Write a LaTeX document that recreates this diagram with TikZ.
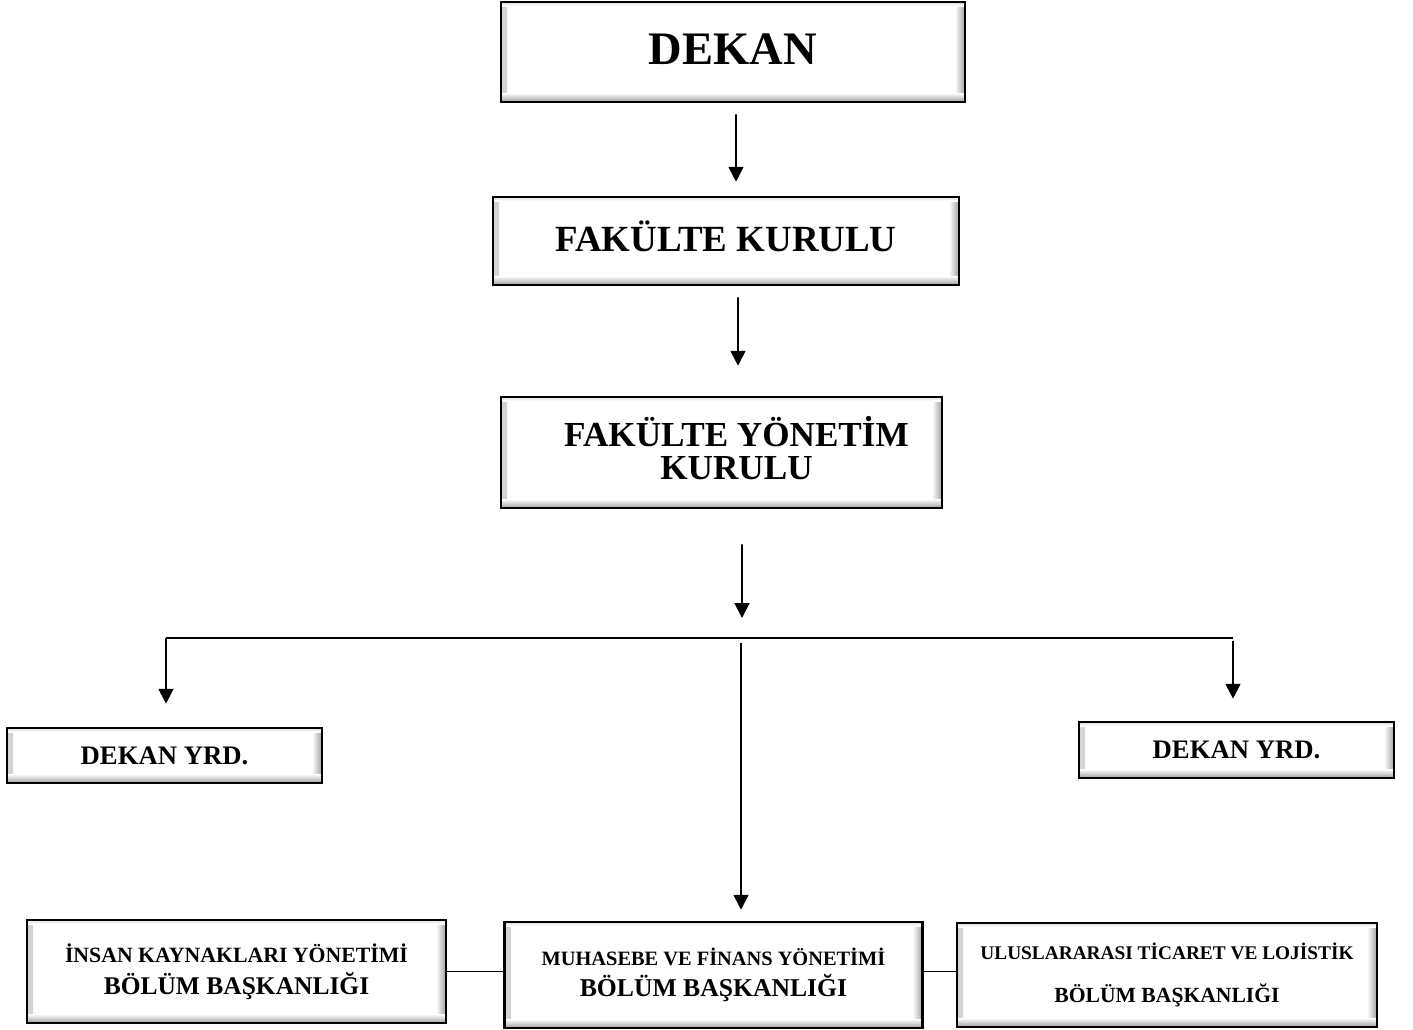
\documentclass[tikz,border=0pt]{standalone}
\usepackage{fontspec}
\setmainfont{Liberation Serif}
\usetikzlibrary{arrows.meta}
\tikzset{
  bevel/.style={draw=black, line width=1.5pt, fill=white, inner sep=0pt, align=center, font=\bfseries,
    path picture={
      \shade[left color=gray!35, right color=white] (path picture bounding box.south west) rectangle ([xshift=0.12cm]path picture bounding box.north west);
      \shade[left color=white, right color=gray!75] ([xshift=-0.2cm]path picture bounding box.south east) rectangle (path picture bounding box.north east);
      \shade[top color=white, bottom color=gray!75] (path picture bounding box.south west) rectangle ([yshift=0.18cm]path picture bounding box.south east);
      \shade[top color=gray!25, bottom color=white] ([yshift=-0.08cm]path picture bounding box.north west) rectangle (path picture bounding box.north east);
    }},
  arr/.style={line width=1.1pt, -{Triangle[width=8.5pt,length=8.5pt]}},
  hline/.style={line width=1pt}
}
\begin{document}
\begin{tikzpicture}[x=0.02cm,y=-0.02cm]
\useasboundingbox (0,0) rectangle (1413,1029);
\node[bevel, minimum width=9.28cm, minimum height=2cm, font=\bfseries\fontsize{26.5}{30}\selectfont] (dekan) at (733,52) {\raisebox{3pt}{DEKAN}};
\node[bevel, minimum width=9.32cm, minimum height=1.76cm, font=\bfseries\fontsize{21}{24}\selectfont] (fkurul) at (726,241) {\raisebox{5.5pt}{FAKÜLTE KURULU}};
\node[bevel, minimum width=8.82cm, minimum height=2.22cm, font=\bfseries\fontsize{20}{18.7}\selectfont] (fyk) at (721.5,452.5) {\raisebox{3pt}{\begin{tabular}{@{\hspace{0.6cm}}c@{}}FAKÜLTE YÖNETİM\\KURULU\end{tabular}}};
\node[bevel, minimum width=6.3cm, minimum height=1.1cm, font=\bfseries\fontsize{15.2}{18}\selectfont] (yrdl) at (164.5,755.5) {DEKAN YRD.};
\node[bevel, minimum width=6.3cm, minimum height=1.12cm, font=\bfseries\fontsize{15.2}{18}\selectfont] (yrdr) at (1236.5,750) {DEKAN YRD.};
\node[bevel, minimum width=8.38cm, minimum height=2.06cm, font=\bfseries\fontsize{12.4}{18}\selectfont] (ikybb) at (236.5,971.5) {İNSAN KAYNAKLARI YÖNETİMİ\\{\fontsize{14.5}{18}\selectfont BÖLÜM BAŞKANLIĞI}};
\node[bevel, minimum width=8.36cm, minimum height=2.12cm, font=\bfseries\fontsize{11.6}{18}\selectfont] (mfybb) at (713.5,975) {MUHASEBE VE FİNANS YÖNETİMİ\\{\fontsize{14.6}{18}\selectfont BÖLÜM BAŞKANLIĞI}};
\node[bevel, minimum width=8.4cm, minimum height=2.08cm, font=\bfseries\fontsize{11}{22.7}\selectfont] (utlbb) at (1167,975) {\raisebox{2pt}{ULUSLARARASI TİCARET VE LOJİSTİK}\\{\fontsize{12.3}{22.7}\selectfont BÖLÜM BAŞKANLIĞI}};
\coordinate (split) at (742,638);
\coordinate (bl) at (166,638);
\coordinate (br) at (1233,638);
\draw[arr, shorten <=0.22cm, shorten >=0.28cm] ([xshift=0.06cm]dekan.south) -- ([xshift=0.2cm]fkurul.north);
\draw[arr, shorten <=0.22cm, shorten >=0.6cm] ([xshift=0.24cm]fkurul.south) -- ([xshift=0.33cm]fyk.north);
\draw[arr, shorten <=0.7cm, shorten >=0.4cm] ([xshift=0.41cm]fyk.south) -- (split);
\draw[hline] (bl) -- (br);
\draw[arr, shorten >=0.46cm] (bl) -- (bl |- yrdl.north);
\draw[arr, shorten <=0.06cm, shorten >=0.44cm] (br) -- (br |- yrdr.north);
\draw[arr, shorten <=0.1cm, shorten >=0.22cm] ([xshift=-0.02cm]split) -- ([xshift=-0.02cm]split |- mfybb.north);
\draw[hline] (ikybb.east) -- (ikybb.east -| mfybb.west);
\draw[hline] (ikybb.east -| mfybb.east) -- (ikybb.east -| utlbb.west);
\end{tikzpicture}
\end{document}
